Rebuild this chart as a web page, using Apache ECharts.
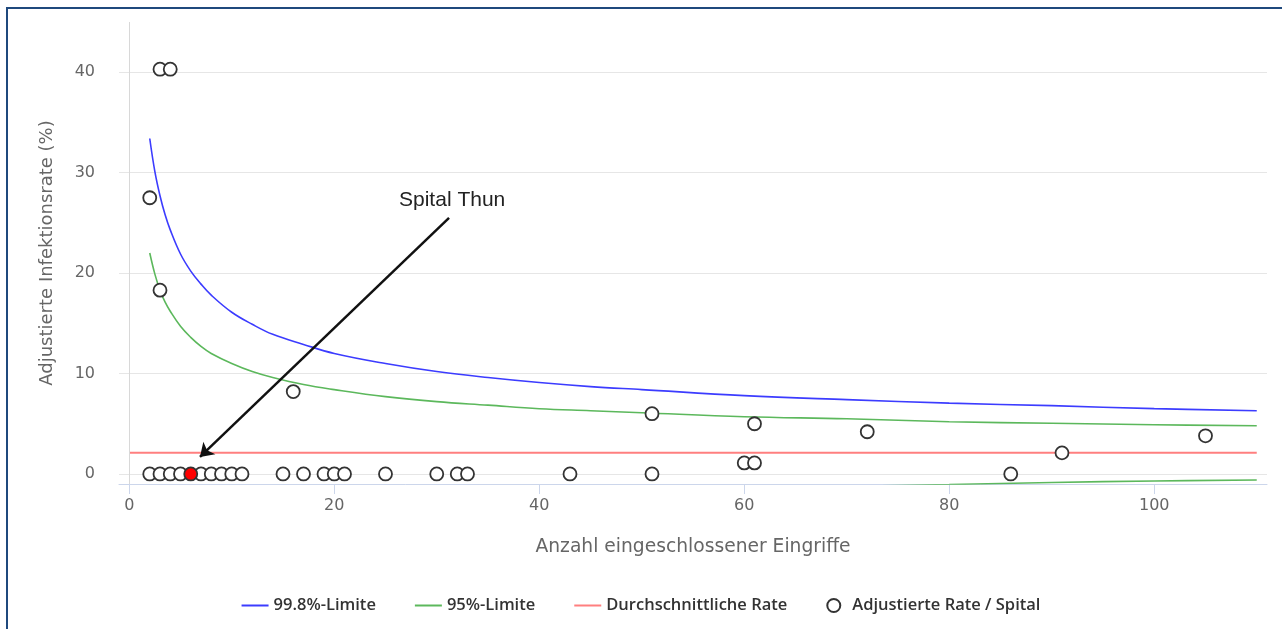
<!DOCTYPE html>
<html>
<head>
<meta charset="utf-8">
<script src="https://cdn.jsdelivr.net/npm/echarts@6/dist/echarts.min.js"></script>
<style>
html,body{margin:0;padding:0;background:#fff;}
#c{width:1282px;height:629px;}
</style>
</head>
<body>
<div id="c"></div>
<script>
// ---- data ----
const xTicks = [0, 20, 40, 60, 80, 100];
const yTicks = [0, 10, 20, 30, 40];

const limitN   = [2, 2.5, 3, 3.5, 4, 5, 6, 7, 8, 10, 12, 14, 17, 20, 25, 30, 35, 40, 45, 50, 60, 70, 80, 90, 100, 110];
const upper998 = [33.4, 30.1, 27.7, 25.8, 24.3, 21.9, 20.2, 18.9, 17.8, 16.1, 14.9, 13.9, 12.9, 12.0, 11.0, 10.2, 9.6, 9.1, 8.7, 8.4, 7.8, 7.4, 7.05, 6.8, 6.5, 6.3];
const upper95  = [22.0, 19.9, 18.3, 17.1, 16.2, 14.7, 13.6, 12.7, 12.0, 11.0, 10.2, 9.6, 8.9, 8.4, 7.7, 7.2, 6.85, 6.5, 6.3, 6.1, 5.7, 5.5, 5.2, 5.05, 4.9, 4.8];
const lower95N = [60, 70, 80, 90, 100, 110];
const lower95  = [-1.5, -1.25, -1.05, -0.85, -0.7, -0.6];

const avgN = [0, 110];
const avgRate = [2.1, 2.1];

const hospitalN    = [2, 3, 4, 5, 7, 8, 9, 10, 11, 15, 17, 19, 20, 21, 25, 30, 32, 33, 43, 51, 86,
                      3, 4, 2, 3, 16, 51, 61, 72, 105, 91, 60, 61];
const hospitalRate = [0, 0, 0, 0, 0, 0, 0, 0, 0, 0, 0, 0, 0, 0, 0, 0, 0, 0, 0, 0, 0,
                      40.3, 40.3, 27.5, 18.3, 8.2, 6.0, 5.0, 4.2, 3.8, 2.1, 1.1, 1.1];
const thunN = 6;
const thunRate = 0;

// annotation (data coordinates)
const annotationText = 'Spital Thun';
const arrowFrom = [31.2, 25.5];
const arrowTo   = [6.9, 1.7];
const textAt    = [31.5, 27.3];

// ---- chart ----
const axisFont = 'DejaVu Sans';
const pairs = (xs, ys) => xs.map((x, i) => [x, ys[i]]);
const lineIcon = 'path://M0,0 L27,0 L27,2 L0,2 Z';

const hospData = pairs(hospitalN, hospitalRate);
hospData.push({ value: [thunN, thunRate], itemStyle: { color: '#ff0000', borderColor: '#333' } });

const chart = echarts.init(document.getElementById('c'), null, { renderer: 'canvas' });
chart.setOption({
  animation: false,
  backgroundColor: '#fff',
  graphic: [{
    type: 'rect', silent: true, z: 100,
    shape: { x: 7, y: 8, width: 1400, height: 800 },
    style: { fill: 'none', stroke: '#1f497d', lineWidth: 2 }
  }],
  grid: { left: 119, right: 15, top: 22, bottom: 145 },
  legend: {
    left: 'center', top: 592,
    itemWidth: 27, itemHeight: 13, itemGap: 39,
    textStyle: { fontFamily: 'Open Sans', fontWeight: 600, fontSize: 16.5, color: '#333' },
    data: [
      { name: '99.8%-Limite', icon: lineIcon },
      { name: '95%-Limite', icon: lineIcon },
      { name: 'Durchschnittliche Rate', icon: lineIcon },
      { name: 'Adjustierte Rate / Spital', icon: 'circle' }
    ]
  },
  xAxis: {
    type: 'value', min: -1, max: 111,
    name: 'Anzahl eingeschlossener Eingriffe', nameLocation: 'middle', nameGap: 54,
    nameTextStyle: { color: '#666', fontSize: 18.7, fontFamily: axisFont },
    axisLine: { onZero: false, lineStyle: { color: '#ccd6eb', width: 1 } },
    axisTick: { show: true, length: 10, customValues: xTicks, lineStyle: { color: '#ccd6eb' } },
    axisLabel: { customValues: xTicks, color: '#666', fontSize: 16, margin: 14, fontFamily: axisFont },
    splitLine: { show: false }
  },
  yAxis: {
    type: 'value', min: -1, max: 45,
    name: 'Adjustierte Infektionsrate (%)', nameLocation: 'middle', nameGap: 63,
    nameTextStyle: { color: '#666', fontSize: 18, fontFamily: axisFont },
    axisLine: { show: false },
    axisTick: { show: false, customValues: yTicks },
    axisLabel: { customValues: yTicks, color: '#666', fontSize: 16, margin: 24, fontFamily: axisFont },
    splitLine: { show: true, lineStyle: { color: '#e6e6e6', width: 1 } }
  },
  series: [
    {
      name: '99.8%-Limite', type: 'line', data: pairs(limitN, upper998),
      symbol: 'none', smooth: 0.4, z: 3,
      lineStyle: { color: '#3c3cff', width: 1.6 }, itemStyle: { color: '#3c3cff' },
      markLine: {
        silent: true, symbol: 'none', label: { show: false },
        lineStyle: { color: '#d8d8d8', width: 1, type: 'solid' },
        data: [{ xAxis: 0 }]
      }
    },
    {
      name: '95%-Limite', type: 'line', data: pairs(limitN, upper95),
      symbol: 'none', smooth: 0.4, z: 3,
      lineStyle: { color: '#5cb85c', width: 1.6 }, itemStyle: { color: '#5cb85c' }
    },
    {
      name: '95%-Limite', type: 'line', data: pairs(lower95N, lower95),
      symbol: 'none', smooth: 0.4, z: 3,
      lineStyle: { color: '#5cb85c', width: 1.6 }, itemStyle: { color: '#5cb85c' }
    },
    {
      name: 'Durchschnittliche Rate', type: 'line', data: pairs(avgN, avgRate),
      symbol: 'none', z: 3,
      lineStyle: { color: '#ff7f7f', width: 2 }, itemStyle: { color: '#ff7f7f' }
    },
    {
      name: 'Adjustierte Rate / Spital', type: 'scatter', data: hospData,
      symbol: 'circle', symbolSize: 13, z: 5,
      itemStyle: { color: '#ffffff', borderColor: '#333', borderWidth: 1.8, opacity: 1 },
      markLine: {
        silent: true, z: 10,
        symbol: ['none', 'arrow'], symbolSize: 13,
        label: { show: false },
        lineStyle: { color: '#111', width: 2.5, type: 'solid' },
        data: [[{ coord: arrowFrom }, { coord: arrowTo }]]
      },
      markPoint: {
        silent: true,
        symbol: 'circle', symbolSize: 0,
        data: [{
          coord: textAt,
          label: { show: true, position: 'inside', formatter: annotationText,
                   color: '#222', fontSize: 21, fontFamily: 'Liberation Sans' }
        }]
      }
    }
  ]
});
</script>
</body>
</html>
